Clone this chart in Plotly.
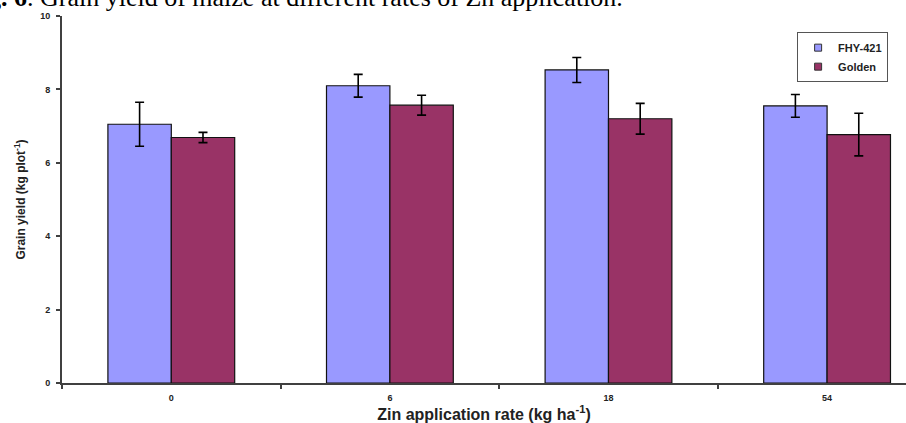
import plotly.graph_objects as go

categories = ["0", "6", "18", "54"]
fhy_values = [7.05, 8.10, 8.53, 7.55]
fhy_errors = [0.60, 0.31, 0.34, 0.31]
golden_values = [6.69, 7.57, 7.20, 6.77]
golden_errors = [0.14, 0.27, 0.42, 0.58]
y_ticks = [0, 2, 4, 6, 8, 10]

FHY_COLOR = "#9999FF"
GOLDEN_COLOR = "#993366"

fig = go.Figure()
fig.add_trace(go.Bar(
    name="FHY-421", x=categories, y=fhy_values, showlegend=False,
    marker=dict(color=FHY_COLOR, line=dict(color="#111111", width=1.2)),
    error_y=dict(type="data", array=fhy_errors, color="black", thickness=1.6, width=4.5),
))
fig.add_trace(go.Bar(
    name="Golden", x=categories, y=golden_values, showlegend=False,
    marker=dict(color=GOLDEN_COLOR, line=dict(color="#111111", width=1.2)),
    error_y=dict(type="data", array=golden_errors, color="black", thickness=1.6, width=4.5),
))
# legend entries with small square swatches
for name, color in [("FHY-421", FHY_COLOR), ("Golden", GOLDEN_COLOR)]:
    fig.add_trace(go.Scatter(
        x=[None], y=[None], mode="markers", name=name,
        marker=dict(symbol="square", size=7, color=color, line=dict(color="#333333", width=1)),
    ))

fig.update_layout(
    width=906, height=423,
    margin=dict(l=62, r=0, t=16, b=40),
    paper_bgcolor="white", plot_bgcolor="white",
    barmode="group", bargap=0.42, bargroupgap=0,
    font=dict(family="Liberation Sans, Arial", color="#222222"),
    showlegend=True,
    legend=dict(
        x=0.871, y=0.956, xanchor="left", yanchor="top",
        bordercolor="#555555", borderwidth=1, bgcolor="white",
        font=dict(size=11, family="Liberation Sans, Arial", color="#222222", weight="bold"),
        itemwidth=30, tracegroupgap=4,
    ),
    xaxis=dict(
        type="category", range=[-0.5, 3.361],
        showline=True, linecolor="#404040", linewidth=2,
        ticks="outside", tickson="boundaries", ticklen=4, tickcolor="#404040", tickwidth=2,
        ticklabelstandoff=5,
        tickfont=dict(size=9, weight="bold", color="#222222"),
        title=dict(text="Zin application rate (kg ha<sup>-1</sup>)", standoff=5,
                   font=dict(size=16, weight="bold", color="#222222")),
        showgrid=False, zeroline=False,
    ),
    yaxis=dict(
        range=[0, 10], tickvals=y_ticks,
        showline=True, linecolor="#404040", linewidth=2,
        ticks="outside", ticklen=4, tickcolor="#404040", tickwidth=2,
        ticklabelstandoff=4,
        tickfont=dict(size=9, weight="bold", color="#222222"),
        title=dict(text="Grain yield (kg plot<sup>-1</sup>)", standoff=12,
                   font=dict(size=12, weight="bold", color="#222222")),
        showgrid=False, zeroline=False,
    ),
)

fig.add_annotation(
    xref="paper", yref="paper", x=-0.09, y=1.0, yshift=2,
    xanchor="left", yanchor="bottom", showarrow=False,
    text="<b>g. 6</b>. Grain yield of maize at different rates of Zn application.",
    font=dict(family="Liberation Serif, Times New Roman", size=26, color="black"),
)

fig.write_html("out.html", config={"displayModeBar": False},
               post_script="document.body.style.margin='0';")
